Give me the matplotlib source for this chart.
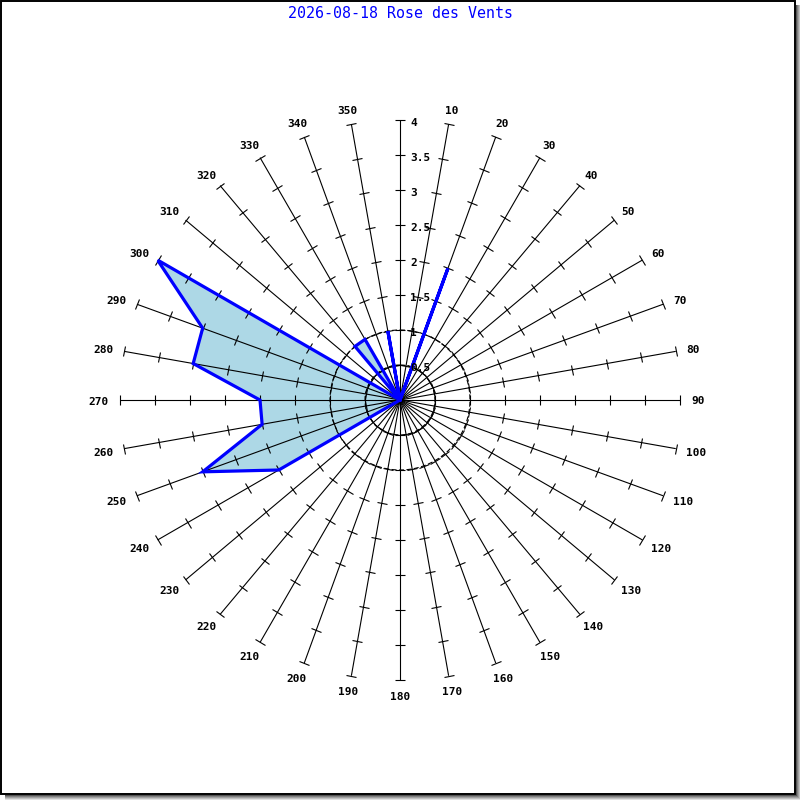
import numpy as np
import matplotlib
matplotlib.use("Agg")
import matplotlib.pyplot as plt
from matplotlib.markers import MarkerStyle
from matplotlib.patches import Rectangle

# ---- data ----
directions = list(range(0, 360, 10))
speeds = [0, 0, 2, 0, 0, 0, 0, 0, 0, 0,
          0, 0, 0, 0, 0, 0, 0, 0, 0, 0,
          0, 0, 0, 0, 2, 3, 2, 2, 3, 3,
          4, 0, 1, 1, 0, 1]
radial_ticks = [0.5, 1, 1.5, 2, 2.5, 3, 3.5, 4]
radial_labels = ["0.5", "1", "1.5", "2", "2.5", "3", "3.5", "4"]
dir_labels = [str(d) for d in directions]
circles = [0.5, 1.0]
title = "2026-08-18 Rose des Vents"
rmax = 4

mono = ["DejaVu Sans Mono"]
PX = 72.0 / 100.0  # points per pixel

fig = plt.figure(figsize=(8, 8), dpi=100)
fig.patch.set_facecolor("white")
ax = fig.add_axes([0.15, 0.15, 0.7, 0.7], projection="polar")
ax.set_theta_zero_location("N")
ax.set_theta_direction(-1)
ax.set_ylim(0, rmax)
ax.grid(False)
ax.set_xticks([])
ax.set_yticks([])
ax.spines["polar"].set_visible(False)
ax.patch.set_alpha(0)

theta = np.deg2rad(directions)

# filled polygon
th_closed = np.append(theta, theta[0])
sp_closed = np.append(speeds, speeds[0])
ax.fill(th_closed, sp_closed, color="#add8e6", zorder=1)

# spokes with ticks
for d, th in zip(directions, theta):
    ax.plot([th, th], [0, rmax], color="black", lw=0.8, zorder=2)
    ms = MarkerStyle("_").rotated(deg=-d)
    ax.plot([th] * len(radial_ticks), radial_ticks, linestyle="none",
            marker=ms, markersize=7.5, markeredgewidth=0.8, color="black",
            zorder=2, clip_on=False)

# dashed circles
tc = np.linspace(0, 2 * np.pi, 361)
for c in circles:
    ax.plot(tc, [c] * len(tc), color="black", lw=0.8, dashes=(4.5, 2.2), zorder=2)

# outline
ax.plot(th_closed, sp_closed, color="#0000ff", lw=2.3, zorder=3,
        solid_joinstyle="miter")

# radial labels
for r, lab in zip(radial_ticks, radial_labels):
    ax.annotate(lab, xy=(0, r), xytext=(7.5, -2), textcoords="offset points",
                ha="left", va="center", fontsize=8, fontweight="bold",
                family=mono, zorder=4, annotation_clip=False)

# direction labels: anchored just beyond the spoke end, box pushed outward
for d, th, lab in zip(directions, theta, dir_labels):
    if d == 0:
        continue
    half_w = 3.4 * len(lab)
    half_h = 4.0
    ox = half_w * np.sin(th) * PX
    oy = (half_h * np.cos(th) - 1.5) * PX
    ax.annotate(lab, xy=(th, rmax + 11 / 70.0), xytext=(ox, oy),
                textcoords="offset points", ha="center", va="center",
                fontsize=8, fontweight="bold", family=mono,
                annotation_clip=False)

# title
fig.text(0.5, 1 - 14 / 800, title, ha="center", va="center", color="#0000ff",
         fontsize=10.8, family=mono)

# frame with shadow
W = 800.0
shades = ["#555555", "#808080", "#a0a0a0", "#c0c0c0", "#e0e0e0"]
for i, col in enumerate(shades):
    fig.add_artist(Rectangle(((796 + i) / W, 0), 1 / W, (W - 5) / W,
                             transform=fig.transFigure, color=col, lw=0))
    fig.add_artist(Rectangle((5 / W, (4 - i) / W), (W - 5) / W, 1 / W,
                             transform=fig.transFigure, color=col, lw=0))
fig.add_artist(Rectangle((0.75 / W, 5.75 / W), 794.5 / W, 793.5 / W,
                         transform=fig.transFigure, fill=False,
                         edgecolor="black", lw=1.4))

fig.savefig("out.png", dpi=100)
